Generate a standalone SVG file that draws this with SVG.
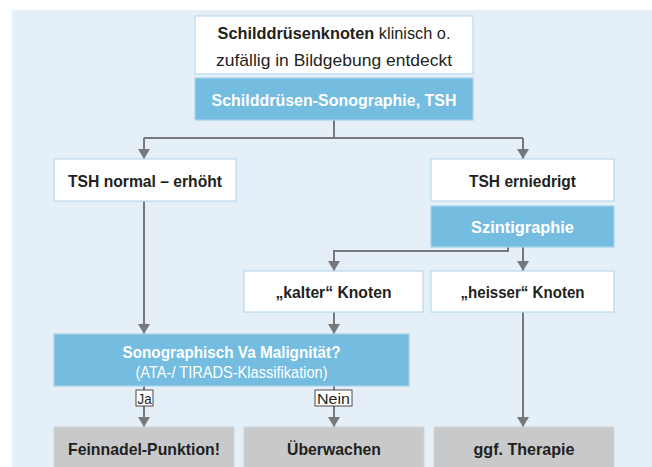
<svg xmlns="http://www.w3.org/2000/svg" width="652" height="467" viewBox="0 0 652 467">
<defs>
<marker id="arr" viewBox="0 0 10 12" refX="10" refY="6" markerWidth="10" markerHeight="12" markerUnits="userSpaceOnUse" orient="auto">
<path d="M0,0 L10,6 L0,12 Z" fill="#77787b"/>
</marker>
<style>
.wb{fill:#ffffff;stroke:#b9d8ee;stroke-width:1.2}
.bb{fill:#74bce0;stroke:#a9d3ec;stroke-width:1.2}
.gb{fill:#c8c9cb;stroke:#d4d5d7;stroke-width:1}
.t{font-family:"Liberation Sans",Arial,sans-serif;font-size:17px;font-weight:bold;fill:#231f20;text-anchor:middle}
.tw{font-family:"Liberation Sans",Arial,sans-serif;font-size:17px;font-weight:bold;fill:#ffffff;text-anchor:middle}
.tr{font-family:"Liberation Sans",Arial,sans-serif;font-size:17px;fill:#231f20;text-anchor:middle}
.trw{font-family:"Liberation Sans",Arial,sans-serif;font-size:16px;fill:#ffffff;text-anchor:middle}
.c{fill:none;stroke:#77787b;stroke-width:2}
.lb{fill:#ffffff;stroke:#231f20;stroke-width:0.8}
.lt{font-family:"Liberation Sans",Arial,sans-serif;font-size:15px;fill:#231f20;text-anchor:middle}
</style>
</defs>
<rect x="0" y="0" width="652" height="467" fill="#ffffff"/>
<rect x="12" y="10" width="640" height="457" fill="#e4eff8"/>

<g id="connectors">
<path class="c" d="M334,120 V138"/>
<path class="c" d="M144,138 H523"/>
<path class="c" d="M144,138 V159" marker-end="url(#arr)"/>
<path class="c" d="M523,138 V159" marker-end="url(#arr)"/>
<path class="c" d="M144,201 V334" marker-end="url(#arr)"/>
<path class="c" d="M508,247 V251 H334 V271" marker-end="url(#arr)"/>
<path class="c" d="M523,247 V271" marker-end="url(#arr)"/>
<path class="c" d="M334,312 V334" marker-end="url(#arr)"/>
<path class="c" d="M144,386 V427" marker-end="url(#arr)"/>
<path class="c" d="M334,386 V427" marker-end="url(#arr)"/>
<path class="c" d="M523,312 V427" marker-end="url(#arr)"/>
<g id="label-ja">
<rect class="lb" x="136" y="390" width="17" height="16"/>
<text class="lt" x="144.5" y="403.5" textLength="14" lengthAdjust="spacingAndGlyphs">Ja</text>
</g>
<g id="label-nein">
<rect class="lb" x="315" y="390" width="37" height="16"/>
<text class="lt" x="333.5" y="403.5" textLength="33" lengthAdjust="spacingAndGlyphs">Nein</text>
</g>
</g>

<g id="start">
<rect class="wb" x="195" y="16" width="278" height="58"/>
<text class="tr" x="334" y="39" textLength="233" lengthAdjust="spacingAndGlyphs"><tspan font-weight="bold">Schilddrüsenknoten</tspan> klinisch o.</text>
<text class="tr" x="334" y="66" textLength="236" lengthAdjust="spacingAndGlyphs">zufällig in Bildgebung entdeckt</text>
</g>
<g id="sono-tsh">
<rect class="bb" x="195" y="78" width="278" height="42"/>
<text class="tw" x="334" y="106" textLength="245" lengthAdjust="spacingAndGlyphs">Schilddrüsen-Sonographie, TSH</text>
</g>
<g id="tsh-normal">
<rect class="wb" x="54" y="159" width="182" height="42"/>
<text class="t" x="145" y="187" textLength="154" lengthAdjust="spacingAndGlyphs">TSH normal – erhöht</text>
</g>
<g id="tsh-low">
<rect class="wb" x="431" y="159" width="183" height="42"/>
<text class="t" x="522.5" y="187" textLength="107" lengthAdjust="spacingAndGlyphs">TSH erniedrigt</text>
</g>
<g id="szinti">
<rect class="bb" x="431" y="206" width="183" height="41"/>
<text class="tw" x="522.5" y="233" textLength="103" lengthAdjust="spacingAndGlyphs">Szintigraphie</text>
</g>
<g id="kalt">
<rect class="wb" x="244" y="271" width="179" height="41"/>
<text class="t" x="333.5" y="298" textLength="116" lengthAdjust="spacingAndGlyphs">„kalter“ Knoten</text>
</g>
<g id="heiss">
<rect class="wb" x="431" y="271" width="183" height="41"/>
<text class="t" x="522.5" y="298" textLength="124" lengthAdjust="spacingAndGlyphs">„heisser“ Knoten</text>
</g>
<g id="malignitaet">
<rect class="bb" x="54" y="334" width="355" height="52"/>
<text class="tw" x="231.5" y="358" textLength="218" lengthAdjust="spacingAndGlyphs">Sonographisch Va Malignität?</text>
<text class="trw" x="231.5" y="378" textLength="192" lengthAdjust="spacingAndGlyphs">(ATA-/ TIRADS-Klassifikation)</text>
</g>
<g id="fnp">
<rect class="gb" x="54" y="427" width="180" height="44"/>
<text class="t" x="144" y="455" textLength="152" lengthAdjust="spacingAndGlyphs">Feinnadel-Punktion!</text>
</g>
<g id="ueberwachen">
<rect class="gb" x="244" y="427" width="180" height="44"/>
<text class="t" x="334" y="455" textLength="94" lengthAdjust="spacingAndGlyphs">Überwachen</text>
</g>
<g id="therapie">
<rect class="gb" x="434" y="427" width="180" height="44"/>
<text class="t" x="524" y="455" textLength="101" lengthAdjust="spacingAndGlyphs">ggf. Therapie</text>
</g>
</svg>
